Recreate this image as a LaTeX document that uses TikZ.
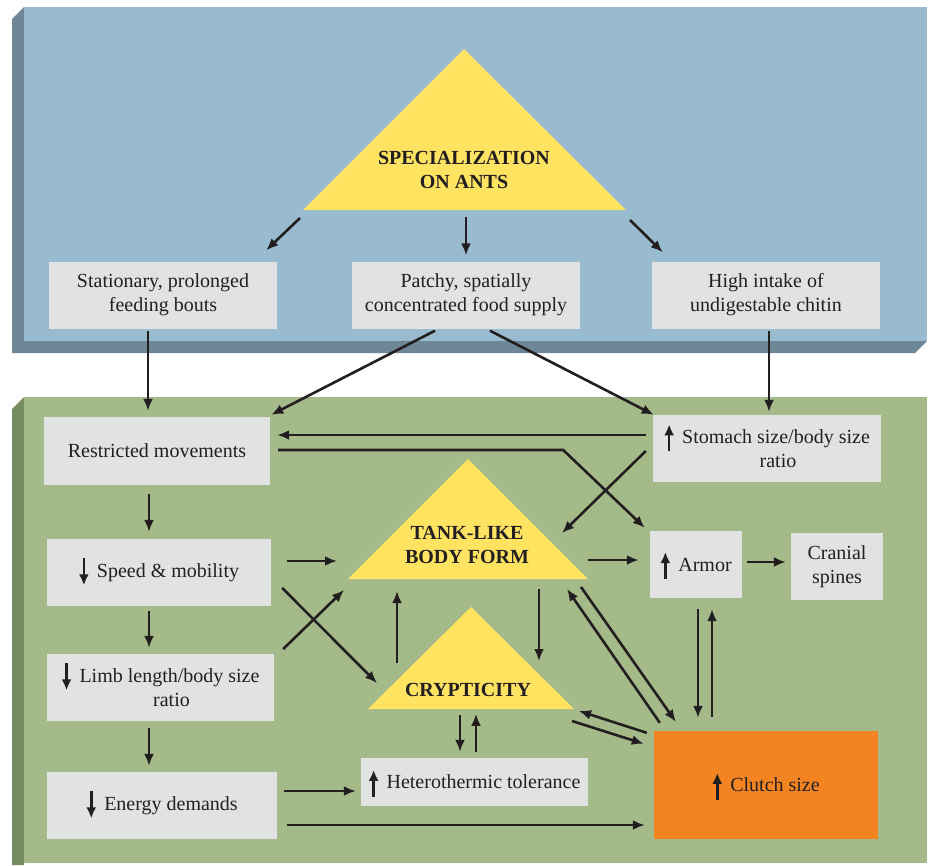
\documentclass[tikz,border=0pt]{standalone}
\usepackage{fontspec}
\setmainfont{Liberation Serif}
\usetikzlibrary{arrows.meta, calc}

\definecolor{panelblue}{HTML}{99BBCF}
\definecolor{edgeblue}{HTML}{6D8797}
\definecolor{panelgreen}{HTML}{A5BA89}
\definecolor{edgegreen}{HTML}{748A5F}
\definecolor{boxgray}{HTML}{E1E2E4}
\definecolor{triyellow}{HTML}{FFE361}
\definecolor{clutchorange}{HTML}{F38421}
\definecolor{inkblack}{HTML}{231F20}

% small up / down marks inside the labels
\newcommand{\uparr}{\smash{\tikz[baseline=0pt]\draw[draw=inkblack, line width=2.6pt, -{Latex[length=11pt,width=10pt]}] (0pt,-8pt) -- (0pt,19pt);}\hspace{8pt}}
\newcommand{\dnarr}{\smash{\tikz[baseline=0pt]\draw[draw=inkblack, line width=2.6pt, -{Latex[length=11pt,width=10pt]}] (0pt,19pt) -- (0pt,-8pt);}\hspace{8pt}}

\begin{document}
\begin{tikzpicture}[x=1pt, y=-1pt,
    box/.style={fill=boxgray, text=inkblack, align=center, inner sep=0pt,
                minimum width=228pt, minimum height=67pt,
                font=\fontsize{20}{24}\selectfont},
    tri/.style={fill=triyellow},
    title/.style={align=center, text=inkblack, inner sep=0pt,
                  font=\fontsize{20}{24}\selectfont\bfseries},
    arr/.style={draw=inkblack, line width=2.6pt, -{Latex[length=12pt,width=10pt]}}]
\useasboundingbox (0, 0) rectangle (931, 865);
\fill[white] (0, 0) rectangle (931, 865);
        % Draw the panels
        \fill[edgeblue] (24, 7) -- (12, 19) -- (12, 353) -- (915, 353) -- (927, 341) -- cycle;
        \fill[panelblue] (24, 7) rectangle (927, 341);
        \fill[edgegreen] (24, 397) -- (12, 409) -- (12, 865) -- (24, 865) -- cycle;
        \fill[panelgreen] (24, 397) rectangle (927, 863);
        % Draw the triangles
        \coordinate (specT) at (464, 49);
        \coordinate (specL) at (303, 210);
        \coordinate (specR) at (626, 210);
        \coordinate (tankT) at (468, 459);
        \coordinate (tankL) at (348, 579);
        \coordinate (tankR) at (588, 579);
        \coordinate (crypT) at (471, 607);
        \coordinate (crypL) at (368, 709);
        \coordinate (crypR) at (574, 709);
        \fill[tri] (specT) -- (specR) -- (specL) -- cycle;
        \fill[tri] (tankT) -- (tankR) -- (tankL) -- cycle;
        \fill[tri] (crypT) -- (crypR) -- (crypL) -- cycle;
        \node[title] at (464, 170) (spec) {SPECIALIZATION\\ON ANTS};
        \node[title] at (467, 545) (tank) {TANK-LIKE\\BODY FORM};
        \node[title] at (468, 690) (cryp) {CRYPTICITY};
        % Draw the boxes
        \node[box] at (163, 295)   (stat)    {Stationary, prolonged\\feeding bouts};
        \node[box] at (466, 295)   (patchy)  {Patchy, spatially\\concentrated food supply};
        \node[box] at (766, 295)   (chitin)  {High intake of\\undigestable chitin};
        \node[box, minimum width=226pt, minimum height=68pt]
                   at (157, 451)   (restr)   {Restricted movements};
        \node[box, minimum width=224pt]
                   at (159, 572.5) (speed)   {\dnarr Speed \& mobility};
        \node[box, minimum width=227pt]
                   at (160.5, 687.5) (limb)  {\dnarr Limb length/body size\\\hspace*{22pt}ratio};
        \node[box, minimum width=230pt]
                   at (162, 805.5) (energy)  {\dnarr Energy demands};
        \node[box, minimum width=227pt, minimum height=48pt]
                   at (474.5, 782) (hetero)  {\uparr Heterothermic tolerance};
        \node[box] at (767, 448.5) (stomach) {\uparr Stomach size/body size\\\hspace*{22pt}ratio};
        \node[box, minimum width=92pt]
                   at (696, 564.5) (armor)   {\uparr Armor};
        \node[box, minimum width=92pt]
                   at (837, 566.5) (cranial) {Cranial\\spines};
        \node[box, fill=clutchorange, minimum width=224pt, minimum height=108pt]
                   at (766, 785)   (clutch)  {\uparr Clutch size};
        % Connect the boxes with arrows
        \path[every edge/.append style={arr}]
            ($(specL)+(-3,8)$)          edge ($(stat.north east)+(-11,-11)$)
            ($(patchy.north)+(0,-44)$)  edge ($(patchy.north)+(0,-6)$)
            ($(specR)+(4,10)$)          edge ($(chitin.north west)+(11,-9)$)
            ($(stat.south)+(-15,2)$)    edge ($(restr.north)+(-9,-6)$)
            ($(patchy.south)+(-31,2)$)  edge ($(restr.north east)+(1,-2)$)
            ($(patchy.south)+(24,2)$)   edge ($(stomach.north west)+(1,0)$)
            ($(chitin.south)+(3,2)$)    edge ($(stomach.north)+(2,-3)$)
            ($(restr.south)+(-8,9)$)    edge ($(speed.north)+(-10,-7)$)
            ($(speed.south)+(-10,5)$)   edge ($(limb.north)+(-11.5,-6)$)
            ($(limb.south)+(-11.5,7)$)  edge ($(energy.north)+(-13,-6)$)
            ($(stomach.west)+(-7,-13.5)$) edge ($(restr.east)+(7,-16)$)
            ($(stomach.west)+(-7,2.5)$) edge ($(tankR)+(-26,-46)$)
            ($(speed.east)+(16,-11.5)$) edge ($(tankL)+(-11,-18)$)
            ($(speed.east)+(11,15.5)$)  edge ($(crypL)+(9,-26)$)
            ($(limb.east)+(9,-38.5)$)   edge ($(tankL)+(-4,11)$)
            ($(crypL)+(29,-46)$)        edge ($(tankL)+(49,12)$)
            ($(tankR)+(-49,10)$)        edge ($(crypR)+(-35,-48)$)
            ($(tankR)+(0,-19)$)         edge ($(armor.west)+(-11,-4.5)$)
            ($(armor.east)+(5,-2.5)$)   edge ($(cranial.west)+(-5,-4.5)$)
            ($(armor.south)+(2,11)$)    edge ($(clutch.north)+(-68,-13)$)
            ($(clutch.north)+(-54,-14)$) edge ($(armor.south)+(16,11)$)
            ($(tankR)+(-7,8)$)          edge ($(clutch.north west)+(22,-9)$)
            ($(clutch.north west)+(6,-8)$) edge ($(tankR)+(-21,10)$)
            ($(clutch.north west)+(-7,2)$) edge ($(crypR)+(5,2)$)
            ($(crypR)+(-2,12)$)         edge ($(clutch.north west)+(-10,13)$)
            ($(hetero.north)+(-14.5,-43)$) edge ($(hetero.north)+(-14.5,-6)$)
            ($(hetero.north)+(1.5,-6)$) edge ($(hetero.north)+(1.5,-44)$)
            ($(energy.east)+(7,-14.5)$) edge ($(hetero.west)+(-5,9)$)
            ($(energy.east)+(10,19.5)$) edge ($(clutch.west)+(-9,40)$);
        \draw[arr] ($(restr.east)+(8,-1)$) -- ++(285,0) -- ($(armor.north west)+(-5,-3)$);
\end{tikzpicture}
\end{document}
